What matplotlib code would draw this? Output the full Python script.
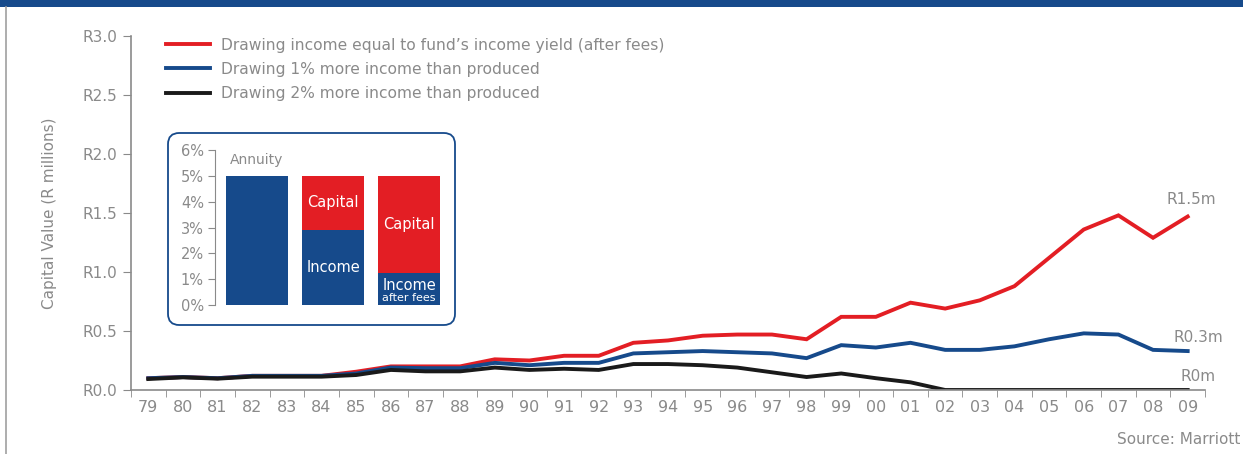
import matplotlib
matplotlib.use("Agg")
import matplotlib.pyplot as plt
from matplotlib.patches import FancyBboxPatch, Rectangle
from matplotlib.lines import Line2D

# data
years = ["79", "80", "81", "82", "83", "84", "85", "86", "87", "88", "89", "90", "91", "92", "93",
         "94", "95", "96", "97", "98", "99", "00", "01", "02", "03", "04", "05", "06", "07", "08", "09"]
red_vals = [0.10, 0.11, 0.10, 0.12, 0.12, 0.12, 0.155, 0.20, 0.20, 0.20, 0.26, 0.25, 0.29, 0.29, 0.40,
            0.42, 0.46, 0.47, 0.47, 0.43, 0.62, 0.62, 0.74, 0.69, 0.76, 0.88, 1.12, 1.36, 1.48, 1.29, 1.47]
blue_vals = [0.10, 0.11, 0.10, 0.12, 0.12, 0.12, 0.14, 0.19, 0.185, 0.185, 0.23, 0.21, 0.23, 0.23, 0.31,
             0.32, 0.33, 0.32, 0.31, 0.27, 0.38, 0.36, 0.40, 0.34, 0.34, 0.37, 0.43, 0.48, 0.47, 0.34, 0.33]
black_vals = [0.093, 0.107, 0.096, 0.113, 0.113, 0.113, 0.127, 0.17, 0.158, 0.158, 0.19, 0.17, 0.18, 0.17, 0.22,
              0.22, 0.21, 0.19, 0.15, 0.11, 0.14, 0.10, 0.065, 0.0, 0.0, 0.0, 0.0, 0.0, 0.0, 0.0, 0.0]
series_names = ["Drawing income equal to fund\u2019s income yield (after fees)",
                "Drawing 1% more income than produced",
                "Drawing 2% more income than produced"]
end_labels = ["R1.5m", "R0.3m", "R0m"]
y_ticks = [0.0, 0.5, 1.0, 1.5, 2.0, 2.5, 3.0]

# inset data
inset_cats = ["Annuity", "Option 2", "Option 3"]
inset_income = [5.0, 2.9, 1.25]
inset_capital = [0.0, 2.1, 3.75]

RED = "#e31e24"
BLUE = "#164a8b"
BLACK = "#1a1a1a"
GREY = "#8a8a8a"
FONT = "DejaVu Sans"

plt.rcParams["font.family"] = FONT

fig = plt.figure(figsize=(12.43, 4.54), dpi=100)
W, H = 1243, 454

def fx(px):
    return px / W

def fy(py):
    return 1 - py / H

# frame: top band and left border
fig.add_artist(Rectangle((0, fy(7)), 1, 7 / H, transform=fig.transFigure, color=BLUE, lw=0))
fig.add_artist(Line2D([fx(6), fx(6)], [0, fy(7)], transform=fig.transFigure, color="#a0a0a0", lw=1.2))

ax = fig.add_axes([fx(131), fy(390), fx(1205 - 131), (390 - 36) / H])
x = range(len(years))
ax.plot(x, red_vals, color=RED, lw=2.8, label=series_names[0], solid_joinstyle="miter")
ax.plot(x, blue_vals, color=BLUE, lw=2.8, label=series_names[1], solid_joinstyle="miter")
ax.plot(x, black_vals, color=BLACK, lw=2.8, label=series_names[2], solid_joinstyle="miter")

ax.set_xlim(-0.5, len(years) - 0.5)
ax.set_ylim(0, 3.0)
ax.set_yticks(y_ticks)
ax.set_yticklabels(["R%.1f" % v for v in y_ticks])
ax.set_xticks(list(x))
ax.set_xticklabels(years)
ax.set_xticks([i - 0.5 for i in range(len(years) + 1)], minor=True)
ax.tick_params(axis="x", which="major", length=0, labelsize=11.5, colors=GREY, pad=7)
ax.tick_params(axis="x", which="minor", length=5, color=GREY, direction="out")
ax.tick_params(axis="y", length=6, color=GREY, labelsize=11, labelcolor=GREY, pad=4)
for s in ["top", "right"]:
    ax.spines[s].set_visible(False)
for s in ["left", "bottom"]:
    ax.spines[s].set_color(GREY)
    ax.spines[s].set_linewidth(1.2)
ax.set_ylabel("Capital Value (R millions)", color=GREY, fontsize=11, labelpad=18)

leg = ax.legend(loc="upper left", bbox_to_anchor=(0.02, 1.035), frameon=False, fontsize=11.2,
                handlelength=2.8, labelspacing=0.6, handletextpad=0.7)
for t in leg.get_texts():
    t.set_color(GREY)

# end labels
ax.text(len(years) - 0.9, red_vals[-1] + 0.08, end_labels[0], color=GREY, fontsize=11, ha="center", va="bottom")
ax.text(len(years) - 0.7, blue_vals[-1] + 0.05, end_labels[1], color=GREY, fontsize=11, ha="center", va="bottom")
ax.text(len(years) - 0.7, black_vals[-1] + 0.05, end_labels[2], color=GREY, fontsize=11, ha="center", va="bottom")

fig.text(fx(1240), fy(440), "Source: Marriott", color=GREY, fontsize=11, ha="right", va="center")

# inset box
box = FancyBboxPatch((fx(168), fy(325)), fx(455 - 168), (325 - 133) / H, transform=fig.transFigure,
                     boxstyle="round,pad=0,rounding_size=0.009", fc="white", ec=BLUE, lw=1.3,
                     mutation_aspect=W / H, zorder=2)
fig.add_artist(box)

iax = fig.add_axes([fx(215), fy(305), fx(445 - 215), (305 - 150) / H])
iax.set_zorder(5)
ix = range(len(inset_cats))
iax.bar(ix, inset_income, width=0.82, color=BLUE)
iax.bar(ix, inset_capital, width=0.82, bottom=inset_income, color=RED)
iax.set_xlim(-0.553, 2.47)
iax.set_ylim(0, 6)
iax.set_yticks(range(7))
iax.set_yticklabels(["%d%%" % v for v in range(7)])
iax.set_xticks([])
iax.tick_params(axis="y", length=5, color=GREY, labelsize=10.5, labelcolor=GREY, pad=3)
for s in ["top", "right", "bottom"]:
    iax.spines[s].set_visible(False)
iax.spines["left"].set_color(GREY)
iax.patch.set_alpha(0)

iax.text(0, inset_income[0] + 0.35, inset_cats[0], color=GREY, fontsize=10, ha="center", va="bottom")
iax.text(1, inset_income[1] + inset_capital[1] / 2, "Capital", color="white", fontsize=10.5, ha="center", va="center")
iax.text(1, inset_income[1] / 2, "Income", color="white", fontsize=10.5, ha="center", va="center")
iax.text(2, inset_income[2] + inset_capital[2] / 2, "Capital", color="white", fontsize=10.5, ha="center", va="center")
iax.text(2, 0.75, "Income", color="white", fontsize=10.5, ha="center", va="center")
iax.text(2, 0.28, "after fees", color="white", fontsize=8, ha="center", va="center")

fig.savefig("out.png", dpi=100)
